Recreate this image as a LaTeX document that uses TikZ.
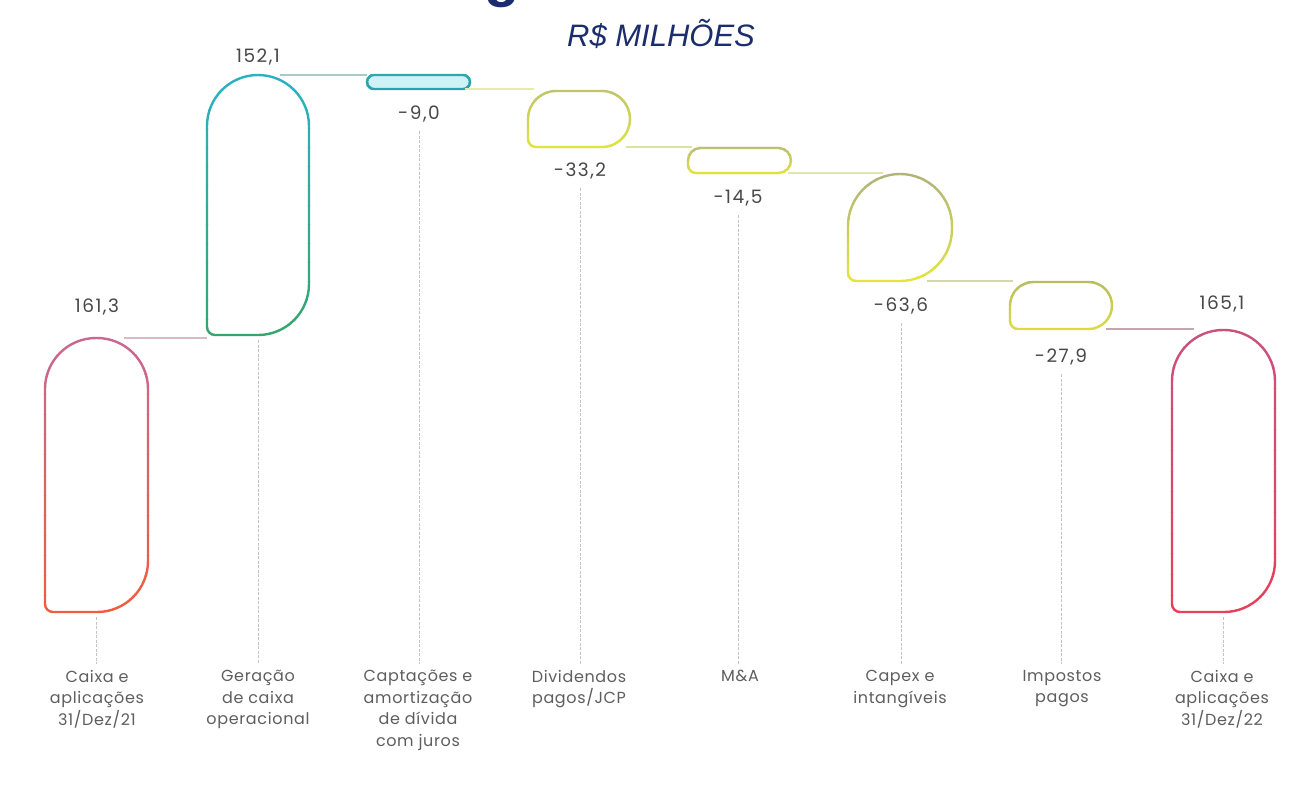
\documentclass[tikz,border=0pt]{standalone}
\usepackage{fontspec}
\setmainfont{Poppins}
\newfontfamily\valfont[LetterSpace=8]{Poppins}
\newfontfamily\catfont[LetterSpace=4]{Poppins}
\newfontfamily\titlefont{Liberation Sans}
\usetikzlibrary{calc}
\definecolor{navy}{HTML}{1C2D6E}
\definecolor{valgray}{HTML}{484848}
\definecolor{catgray}{HTML}{5E5E5E}
\definecolor{leadgray}{HTML}{C4C4C4}
\definecolor{bat}{HTML}{C96891}\definecolor{bab}{HTML}{EF5E3C}
\definecolor{bbt}{HTML}{2CB1C4}\definecolor{bbb}{HTML}{36A56E}
\definecolor{bct}{HTML}{2FA9B5}\definecolor{bcb}{HTML}{2A9FAA}\definecolor{bcf}{HTML}{CFF3F5}
\definecolor{bdt}{HTML}{BFC56A}\definecolor{bdb}{HTML}{DFE43C}
\definecolor{bet}{HTML}{B8BC78}\definecolor{beb}{HTML}{E2E43E}
\definecolor{bft}{HTML}{AFB47A}\definecolor{bfb}{HTML}{E4E43E}
\definecolor{bgt}{HTML}{B5BC62}\definecolor{bgb}{HTML}{DEDE3E}
\definecolor{bht}{HTML}{C9527C}\definecolor{bhb}{HTML}{E6405A}
\definecolor{cab}{HTML}{D9B9C2}\definecolor{cbc}{HTML}{A9C9CC}
\definecolor{ccd}{HTML}{E6EBA6}\definecolor{cde}{HTML}{DDE2A2}
\definecolor{cef}{HTML}{E1E4AE}\definecolor{cfg}{HTML}{D5D9AA}
\definecolor{cgh}{HTML}{C4A6B3}
\tikzset{
  conn/.style={line width=2pt},
  leader/.style={draw=leadgray, line width=0.9pt, dash pattern=on 3pt off 1.5pt},
  val/.style={font=\valfont\fontsize{18.5}{21}\selectfont, text=valgray, inner sep=0},
  cat/.style={font=\catfont\fontsize{16}{21.5}\selectfont, text=catgray, align=center, anchor=north, inner sep=0},
  barnode/.style={inner sep=0, outer sep=0, draw=none},
}
\newcommand\gbar[9]{%
  \node[barnode, minimum width={(#4-#2)*1pt}, minimum height={(#5-#3)*1pt}] (#1) at ({(#2+#4)/2},{(#3+#5)/2}) {};
  \pgfmathsetmacro\gbarsr{min(8,#6)}
  \fill[#9] (#2,#5-\gbarsr) -- (#2,#3+#6) arc[start angle=180,end angle=270,radius=#6] -- (#4-#6,#3) arc[start angle=270,end angle=360,radius=#6] -- (#4,#5-#6) arc[start angle=0,end angle=90,radius=#6] -- (#2+\gbarsr,#5) arc[start angle=90,end angle=180,radius=\gbarsr] -- cycle;
  \foreach \i in {0,...,13}{
    \pgfmathsetmacro\gbarya{#3-4+\i*(#5-#3+8)/14}
    \pgfmathsetmacro\gbaryb{#3-4+(\i+1)*(#5-#3+8)/14}
    \pgfmathtruncatemacro\gbarpc{100*\i/13}
    \begin{scope}
      \clip (#2-5,\gbarya) rectangle (#4+5,\gbaryb);
      \draw[line width=2.4pt, draw={#8!\gbarpc!#7}] (#2,#5-\gbarsr) -- (#2,#3+#6) arc[start angle=180,end angle=270,radius=#6] -- (#4-#6,#3) arc[start angle=270,end angle=360,radius=#6] -- (#4,#5-#6) arc[start angle=0,end angle=90,radius=#6] -- (#2+\gbarsr,#5) arc[start angle=90,end angle=180,radius=\gbarsr] -- cycle;
    \end{scope}
  }
}
\begin{document}
\begin{tikzpicture}[x=1pt,y=-1pt]
\fill[white] (0,0) rectangle (1295,788);
\useasboundingbox (0,0) rectangle (1295,788);
% title
\node[font=\titlefont\bfseries\fontsize{58}{58}\selectfont, text=navy, anchor=base, inner sep=0] (frag) at (502,-5) {g};
\node[font=\titlefont\itshape\fontsize{31}{36}\selectfont, text=navy] (title) at (661,34) {R\$ MILHÕES};
% bars
\gbar{b1}{45}{338}{148}{612}{51}{bat}{bab}{white}
\gbar{b2}{207}{75}{309}{335}{51}{bbt}{bbb}{white}
\gbar{b3}{367}{75}{470}{89}{7}{bct}{bcb}{bcf}
\gbar{b4}{528}{91}{630}{147}{28}{bdt}{bdb}{white}
\gbar{b5}{688}{148}{791}{173}{12.5}{bet}{beb}{white}
\gbar{b6}{848}{174}{952}{281}{52}{bft}{bfb}{white}
\gbar{b7}{1010}{282}{1112}{329}{23.5}{bgt}{bgb}{white}
\gbar{b8}{1172}{330}{1275}{612}{51}{bht}{bhb}{white}
% connectors
\draw[conn, cab] ([xshift=27pt]b1.north) -- (b1.north -| b2.west);
\draw[conn, cbc] ([xshift=22pt]b2.north) -- (b2.north -| b3.west);
\draw[conn, ccd] ([xshift=-5pt]b3.south east) -- ([xshift=6pt]b3.south -| b4.west);
\draw[conn, cde] ([xshift=-4pt]b4.south east) -- ([xshift=4pt]b4.south -| b5.west);
\draw[conn, cef] ([xshift=-3pt]b5.south east) -- ([xshift=35pt]b5.south -| b6.west);
\draw[conn, cfg] ([xshift=-25pt]b6.south east) -- ([xshift=3pt]b6.south -| b7.west);
\draw[conn, cgh] ([xshift=-6pt]b7.south east) -- ([xshift=22pt]b7.south -| b8.west);
% value labels
\node[val] (v1) at (97,307) {161,3};
\node[val] (v2) at (258,57) {152,1};
\node[val] (v3) at (419,114) {-9,0};
\node[val] (v4) at (580,171) {-33,2};
\node[val] (v5) at (738,198) {-14,5};
\node[val] (v6) at (901,306) {-63,6};
\node[val] (v7) at (1061,357) {-27,9};
\node[val] (v8) at (1222,304) {165,1};
% category labels
\node[cat] (k1) at (97,670) {Caixa e\\aplicações\\31/Dez/21};
\node[cat] (k2) at (258,670) {Geração\\de caixa\\operacional};
\node[cat] (k3) at (418,670) {Captações e\\amortização\\de dívida\\com juros};
\node[cat] (k4) at (579,670) {Dividendos\\pagos/JCP};
\node[cat] (k5) at (740,670) {M\&A};
\node[cat] (k6) at (900,670) {Capex e\\intangíveis};
\node[cat] (k7) at (1062,670) {Impostos\\pagos};
\node[cat] (k8) at (1222,670) {Caixa e\\aplicações\\31/Dez/22};
% leaders
\draw[leader, shorten <=5pt, shorten >=6pt] (b1.south) -- (b1.south |- k1.north);
\draw[leader, shorten <=5pt, shorten >=6pt] (b2.south) -- (b2.south |- k2.north);
\draw[leader, shorten <=9pt, shorten >=6pt] (v3.south) -- (v3.south |- k3.north);
\draw[leader, shorten <=9pt, shorten >=6pt] (v4.south) -- (v4.south |- k4.north);
\draw[leader, shorten <=9pt, shorten >=6pt] (v5.south) -- (v5.south |- k5.north);
\draw[leader, shorten <=9pt, shorten >=6pt] (v6.south) -- (v6.south |- k6.north);
\draw[leader, shorten <=9pt, shorten >=6pt] (v7.south) -- (v7.south |- k7.north);
\draw[leader, shorten <=5pt, shorten >=6pt] (b8.south) -- (b8.south |- k8.north);
\end{tikzpicture}
\end{document}
